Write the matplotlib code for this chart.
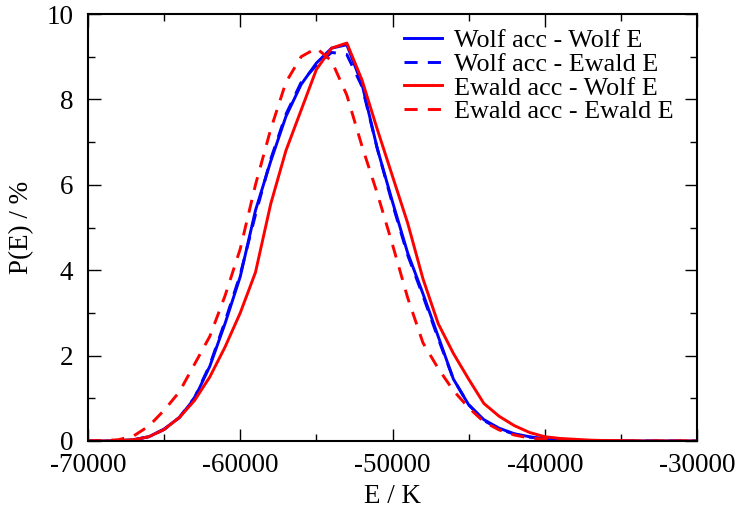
import numpy as np
import matplotlib
matplotlib.use("Agg")
import matplotlib.pyplot as plt
from matplotlib.ticker import MultipleLocator

plt.rcParams["font.family"] = ["Liberation Serif", "DejaVu Serif"]
plt.rcParams["font.size"] = 19.5
plt.rcParams["axes.unicode_minus"] = False

# energy grid, 1000 K bins
energy = np.arange(-70000, -29000, 1000)

wolf_wolf = [0, 0, 0.01, 0.03, 0.1, 0.28, 0.55, 1.0, 1.75, 2.75,
             3.85, 5.4, 6.55, 7.6, 8.35, 8.85, 9.2, 9.28, 8.35, 6.85,
             5.6, 4.4, 3.45, 2.45, 1.45, 0.85, 0.5, 0.3, 0.17, 0.1,
             0.05, 0.03, 0.01, 0, 0, 0, 0, 0, 0, 0, 0]
wolf_ewald = [0, 0, 0.01, 0.03, 0.1, 0.27, 0.55, 1.02, 1.78, 2.8,
              3.9, 5.3, 6.6, 7.65, 8.4, 8.8, 9.1, 9.05, 8.3, 6.85,
              5.55, 4.35, 3.4, 2.4, 1.45, 0.85, 0.48, 0.28, 0.16, 0.09,
              0.05, 0.02, 0.01, 0, 0, 0, 0, 0, 0, 0, 0]
ewald_wolf = [0, 0, 0.01, 0.03, 0.1, 0.27, 0.55, 0.95, 1.5, 2.2,
              3.0, 3.95, 5.55, 6.8, 7.75, 8.7, 9.2, 9.32, 8.45, 7.3,
              6.2, 5.1, 3.8, 2.75, 2.05, 1.45, 0.88, 0.58, 0.36, 0.2,
              0.1, 0.06, 0.04, 0.02, 0.01, 0.01, 0, 0, 0, 0, 0]
ewald_ewald = [0, 0.01, 0.03, 0.12, 0.35, 0.72, 1.15, 1.8, 2.45, 3.4,
               4.5, 6.0, 7.3, 8.4, 9.0, 9.2, 8.9, 8.1, 6.9, 5.8,
               4.6, 3.35, 2.3, 1.7, 1.18, 0.78, 0.45, 0.26, 0.14, 0.07,
               0.04, 0.02, 0.01, 0, 0, 0, 0, 0, 0, 0, 0]

fig = plt.figure(figsize=(7.39, 5.09), dpi=100)
ax = fig.add_axes([88 / 739, 1 - 441 / 509, 609 / 739, 427 / 509])

lw = 2.1
ax.plot(energy, wolf_wolf, color="blue", lw=lw, label="Wolf acc - Wolf E")
ax.plot(energy, wolf_ewald, color="blue", lw=lw, dashes=(4.5, 3.5),
        label="Wolf acc - Ewald E")
ax.plot(energy, ewald_wolf, color="red", lw=lw, label="Ewald acc - Wolf E")
ax.plot(energy, ewald_ewald, color="red", lw=lw, dashes=(4.5, 3.5),
        label="Ewald acc - Ewald E")

ax.set_xlim(-70000, -30000)
ax.set_ylim(0, 10)
ax.xaxis.set_major_locator(MultipleLocator(10000))
ax.xaxis.set_minor_locator(MultipleLocator(5000))
ax.yaxis.set_major_locator(MultipleLocator(2))
ax.yaxis.set_minor_locator(MultipleLocator(1))
ax.tick_params(which="both", direction="in", top=True, right=True,
               width=1.0)
ax.tick_params(axis="x", pad=8.5)
ax.tick_params(axis="y", pad=10.5)
ax.tick_params(which="major", length=9)
ax.tick_params(which="minor", length=5)
for s in ax.spines.values():
    s.set_linewidth(1.5)

ax.set_xlabel("E / K", labelpad=4.5)
ax.set_ylabel("P(E) / %", labelpad=9)

ax.legend(loc="upper right", frameon=False, fontsize=18.8,
          handlelength=1.45, handletextpad=0.45, labelspacing=0.02,
          borderaxespad=0.0, bbox_to_anchor=(0.978, 0.99))

fig.savefig("out.png", dpi=100)
